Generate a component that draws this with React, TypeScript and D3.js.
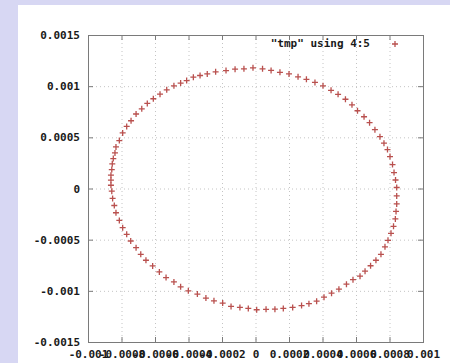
import React, { useEffect, useRef } from 'react';
import * as d3 from 'd3';

// orbit points (column 4 / column 5 of "tmp")
const xValues = [
  -0.000015, 0.000042, 0.000093, 0.000146, 0.0002, 0.000254, 0.000304, 0.000355, 0.000403, 0.000451,
  0.000493, 0.000537, 0.000576, 0.000609, 0.000648, 0.000681, 0.000713, 0.000743, 0.000767, 0.000788,
  0.000803, 0.000818, 0.000827, 0.000836, 0.000843,
  0.000843, 0.000843, 0.000839, 0.000835, 0.000824, 0.000809, 0.000791, 0.000773, 0.000749, 0.000719,
  0.000687, 0.000654, 0.000624, 0.000582, 0.000543, 0.000498, 0.000454, 0.000409, 0.000365, 0.000319,
  0.000275, 0.000222, 0.000166, 0.000116, 0.000063, 0.000007,
  -0.000043, -0.000093, -0.000146, -0.000196, -0.000248, -0.000296, -0.000347, -0.000401, -0.000447, -0.000487,
  -0.000534, -0.000574, -0.000614, -0.000654, -0.000685, -0.000713, -0.000745, -0.000769, -0.000793, -0.000813,
  -0.000833, -0.000843, -0.000853, -0.000858, -0.000863,
  -0.000863, -0.000863, -0.000858, -0.000855, -0.000849, -0.000839, -0.000833, -0.000813, -0.000793, -0.000769,
  -0.000743, -0.000713, -0.000679, -0.000646, -0.00061, -0.00057, -0.00053, -0.000487, -0.000447, -0.000411,
  -0.000371, -0.000331, -0.000288, -0.000238, -0.000176, -0.000122, -0.000069,
];

const yValues = [
  0.001179, 0.001169, 0.001154, 0.001135, 0.00112, 0.001091, 0.001067, 0.001037, 0.001003, 0.000959,
  0.00092, 0.000872, 0.000818, 0.00076, 0.000701, 0.000643, 0.000575, 0.000506, 0.000443, 0.00038,
  0.000312, 0.000234, 0.000156, 0.000083, 0.00001,
  -0.000073, -0.000151, -0.000224, -0.000297, -0.00037, -0.000438, -0.000506, -0.00057, -0.000643, -0.000701,
  -0.000755, -0.000808, -0.000857, -0.000891, -0.000935, -0.000984, -0.001023, -0.001062, -0.001101, -0.001125,
  -0.001144, -0.001162, -0.001172, -0.001179, -0.001181, -0.001185,
  -0.001172, -0.001162, -0.001152, -0.00112, -0.001098, -0.001071, -0.001032, -0.001, -0.000961, -0.000913,
  -0.00087, -0.000815, -0.000757, -0.000701, -0.000643, -0.000578, -0.000513, -0.000448, -0.000383, -0.000312,
  -0.000237, -0.000166, -0.000097, -0.000026, 0.000032,
  0.000081, 0.00013, 0.000185, 0.000241, 0.000292, 0.000348, 0.000406, 0.000468, 0.000543, 0.000607,
  0.000662, 0.000728, 0.000779, 0.000831, 0.000877, 0.000922, 0.000964, 0.001003, 0.00103, 0.001055,
  0.001088, 0.001104, 0.00112, 0.00114, 0.001152, 0.001166, 0.001169,
];

const xTicks = [-0.001, -0.0008, -0.0006, -0.0004, -0.0002, 0, 0.0002, 0.0004, 0.0006, 0.0008, 0.001];
const xTickLabels = ['-0.001', '-0.0008', '-0.0006', '-0.0004', '-0.0002', '0', '0.0002', '0.0004', '0.0006', '0.0008', '0.001'];
const yTicks = [-0.0015, -0.001, -0.0005, 0, 0.0005, 0.001, 0.0015];
const yTickLabels = ['-0.0015', '-0.001', '-0.0005', '0', '0.0005', '0.001', '0.0015'];
const legendLabel = '"tmp" using 4:5';

const W = 450;
const H = 363;

export default function App() {
  const svgRef = useRef<SVGSVGElement>(null);

  useEffect(() => {
    if (!svgRef.current) return;
    const svg = d3.select(svgRef.current);
    svg.selectAll('*').remove();

    const margin = { top: 35, right: 27, bottom: 21, left: 88 };
    const plotW = W - margin.left - margin.right;
    const plotH = H - margin.top - margin.bottom;
    const font = "'DejaVu Sans Mono', monospace";
    const pointColor = '#b9504e';
    const axisColor = '#7a7a7a';

    // lavender page + white panel
    svg.append('rect').attr('width', W).attr('height', H).attr('fill', '#d7d7f3');
    svg.append('rect').attr('x', 18).attr('y', 5).attr('width', W - 18).attr('height', H - 5).attr('fill', '#fff');

    const x = d3.scaleLinear().domain([-0.001, 0.001]).range([0, plotW]);
    const y = d3.scaleLinear().domain([-0.0015, 0.0015]).range([plotH, 0]);

    const g = svg.append('g').attr('transform', `translate(${margin.left},${margin.top})`);

    // dotted grid
    g.append('g').selectAll('line').data(xTicks).enter().append('line')
      .attr('x1', d => x(d) + 0.5).attr('x2', d => x(d) + 0.5)
      .attr('y1', 0).attr('y2', plotH)
      .attr('stroke', '#c4c4c4').attr('stroke-dasharray', '1,3');
    g.append('g').selectAll('line').data(yTicks).enter().append('line')
      .attr('y1', d => y(d) + 0.5).attr('y2', d => y(d) + 0.5)
      .attr('x1', 0).attr('x2', plotW)
      .attr('stroke', '#c4c4c4').attr('stroke-dasharray', '1,3');

    const styleAxis = (sel: d3.Selection<SVGGElement, unknown, null, undefined>) => {
      sel.select('.domain').remove();
      sel.selectAll('.tick line').attr('stroke', axisColor);
      sel.selectAll('.tick text')
        .attr('fill', '#1a1a1a')
        .style('font-family', font)
        .style('font-size', '11px')
        .style('font-weight', 'bold');
    };

    // axes with inward ticks, mirrored on top/right
    g.append('g').attr('transform', `translate(0,${plotH})`)
      .call(d3.axisBottom(x).tickValues(xTicks).tickSize(-5).tickPadding(8)
        .tickFormat((_, i) => xTickLabels[i]))
      .call(styleAxis);
    g.append('g')
      .call(d3.axisLeft(y).tickValues(yTicks).tickSize(-5).tickPadding(8)
        .tickFormat((_, i) => yTickLabels[i]))
      .call(styleAxis);
    g.append('g')
      .call(d3.axisTop(x).tickValues(xTicks).tickSize(-5).tickFormat(() => ''))
      .call(styleAxis);
    g.append('g').attr('transform', `translate(${plotW},0)`)
      .call(d3.axisRight(y).tickValues(yTicks).tickSize(-5).tickFormat(() => ''))
      .call(styleAxis);

    // border
    g.append('rect').attr('x', 0.5).attr('y', 0.5).attr('width', plotW).attr('height', plotH)
      .attr('fill', 'none').attr('stroke', axisColor);

    const plus = (sel: d3.Selection<SVGGElement, unknown, null, undefined>, cx: number, cy: number) => {
      sel.append('path')
        .attr('d', `M${cx - 3},${cy}H${cx + 3}M${cx},${cy - 3}V${cy + 3}`)
        .attr('stroke', pointColor).attr('stroke-width', 1.3).attr('fill', 'none');
    };

    const pts = g.append('g');
    xValues.forEach((xv, i) => plus(pts, x(xv), y(yValues[i])));

    // key
    g.append('text')
      .attr('x', 282).attr('y', 9)
      .attr('text-anchor', 'end').attr('dominant-baseline', 'middle')
      .style('font-family', font).style('font-size', '11px').style('font-weight', 'bold')
      .attr('fill', '#1a1a1a')
      .text(legendLabel);
    plus(g.append('g'), 307, 9);
  }, []);

  return (
    <svg ref={svgRef} width={W} height={H} style={{ position: 'absolute', left: 0, top: 0 }} />
  );
}
